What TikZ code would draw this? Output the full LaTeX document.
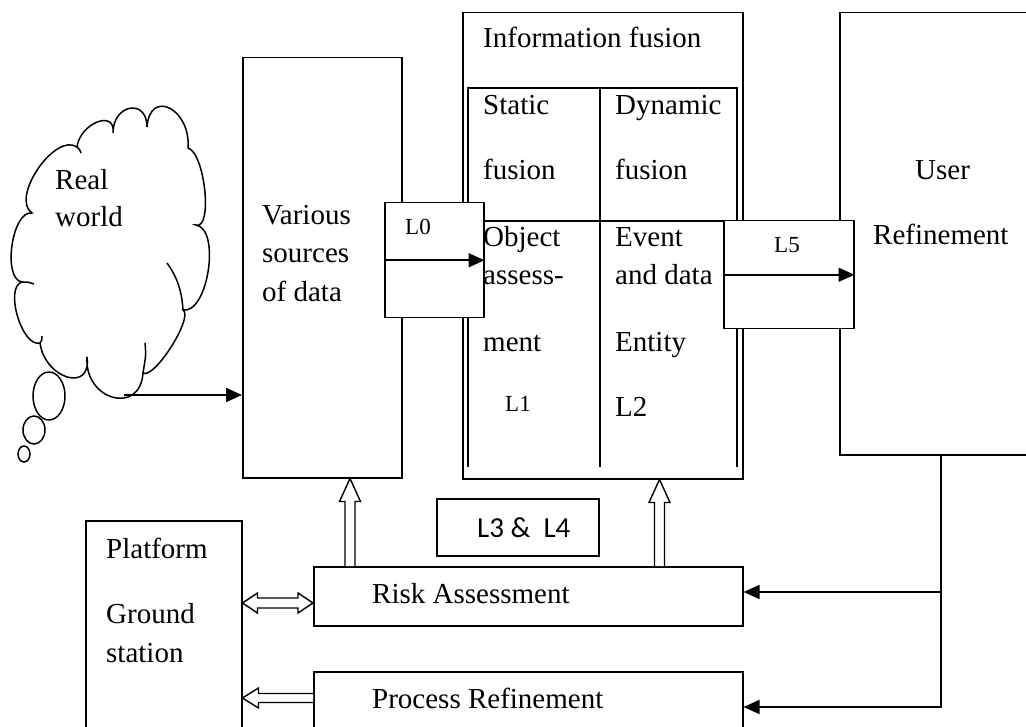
\documentclass[tikz,border=0pt]{standalone}
\usepackage{fontspec}
\setmainfont{Liberation Serif}
\newfontfamily\calib{Carlito}
\usetikzlibrary{arrows.meta,calc}
\begin{document}
\begin{tikzpicture}[x=1pt,y=-1pt,
  box/.style={draw,line width=1.5pt,inner sep=0pt,anchor=north west},
  wbox/.style={box,fill=white},
  txt/.style={anchor=base west,inner sep=0pt,font=\fontsize{29}{34}\selectfont},
  small/.style={anchor=base west,inner sep=0pt,font=\fontsize{23}{27}\selectfont},
  arr/.style={line width=1.6pt,-{Triangle[length=16pt,width=14pt]}},
  ln/.style={line width=1.5pt},
  hollow/.style={draw,line width=1.4pt,fill=white,line join=miter},
  cloudline/.style={line width=1.5pt}
  ]
\useasboundingbox (0,0) rectangle (1026,727);
\clip (0,0) rectangle (1026,727);

% ---------- cloud ----------
\draw[cloudline,fill=white]
  (32,213) .. controls (10,198) and (55,132) .. (77,147)
  .. controls (80,123) and (116,109) .. (113,133)
  .. controls (113,104) and (147,98) .. (147,127)
  .. controls (150,88) and (191,109) .. (188,148)
  .. controls (205,153) and (213,230) .. (196,225)
  .. controls (221,229) and (208,314) .. (183,310)
  .. controls (194,317) and (154,380) .. (143,373)
  .. controls (140,416) and (84,400) .. (87,357)
  .. controls (92,393) and (45,379) .. (40,343)
  .. controls (22,348) and (4,287) .. (22,282)
  .. controls (2,279) and (12,210) .. (32,213) -- cycle;
\draw[cloudline] (167,263) .. controls (178,278) and (182,293) .. (183,310);
\draw[cloudline] (145,343) .. controls (146,355) .. (143,373);
\draw[cloudline] (34,284) .. controls (28,282) .. (22,282);
\draw[cloudline] (77,147) .. controls (80,150) .. (81,153);
\draw[cloudline] (40,343) .. controls (42,340) .. (42,336);
\draw[cloudline,fill=white] (49,396) ellipse [x radius=16, y radius=24];
\draw[cloudline,fill=white] (34,430) ellipse [x radius=11, y radius=14];
\draw[cloudline,fill=white] (24,454) ellipse [x radius=6, y radius=8];
\node[txt] (treal) at (55,190) {Real};
\node[txt] (tworld) at (55,227) {world};
\coordinate (cl) at (124,395);

% ---------- main boxes ----------
\node[box,minimum width=159pt,minimum height=420pt] (vs) at (242,57) {};
\node[txt] (tv1) at (262,225) {Various};
\node[txt] (tv2) at (262,263) {sources};
\node[txt] (tv3) at (262,302) {of data};

\node[box,minimum width=280pt,minimum height=466pt] (inf) at (462,12) {};
\draw[ln] (468,467) -- (468,88) -- (737,88) -- (737,467);
\draw[ln] (600,88) -- (600,467);
\draw[ln] (468,221) -- (737,221);
\node[txt] (tif) at (483,48) {Information fusion};
\node[txt] (ts1) at (483,115) {Static};
\node[txt] (ts2) at (483,180) {fusion};
\node[txt] (td1) at (615,115) {Dynamic};
\node[txt] (td2) at (615,180) {fusion};
\node[txt] (to1) at (483,247) {Object};
\node[txt] (to2) at (483,285) {assess-};
\node[txt] (to3) at (483,352) {ment};
\node[small] (tl1) at (505,412) {L1};
\node[txt] (te1) at (615,247) {Event};
\node[txt] (te2) at (615,285) {and data};
\node[txt] (te3) at (615,352) {Entity};
\node[txt] (tl2) at (615,417) {L2};

\node[box,minimum width=200pt,minimum height=442pt] (user) at (839,12) {};
\node[txt] (tu1) at (915,180) {User};
\node[txt] (tu2) at (873,245) {Refinement};

\node[wbox,minimum width=99pt,minimum height=115pt] (l0) at (384,202) {};
\node[small] (tl0) at (405,235) {L0};
\draw[arr] (l0.west) -- (l0.east);

\node[wbox,minimum width=130pt,minimum height=108pt] (l5) at (723,220) {};
\node[small] (tl5) at (774,253) {L5};
\draw[arr] (l5.west) -- (l5.east);

\draw[arr] (cl) -- (cl -| vs.west);

% ---------- lower part ----------
\node[box,minimum width=162pt,minimum height=57pt] (l34) at (436,498) {};
\node[anchor=base west,inner sep=0pt,font=\calib\fontsize{29}{34}\selectfont] (tl34) at (477,537) {L3 \& \ L4};

\node[box,minimum width=429pt,minimum height=59pt] (risk) at (313,566) {};
\node[txt] (trisk) at (372,603) {Risk Assessment};
\node[box,minimum width=429pt,minimum height=80pt] (proc) at (313,671) {};
\node[txt] (tproc) at (372,708) {Process Refinement};

\node[box,minimum width=156pt,minimum height=230pt] (plat) at (85,520) {};
\node[txt] (tp1) at (106,558) {Platform};
\node[txt] (tp2) at (106,623) {Ground};
\node[txt] (tp3) at (106,662) {station};

% hollow up arrows
\coordinate (a1) at (risk.north -| 350,0);
\coordinate (b1) at (vs.south -| 350,0);
\draw[hollow] ($(a1)+(-5,0)$) -- ($(b1)+(-5,23)$) -- ($(b1)+(-10.5,23)$) -- (b1)
  -- ($(b1)+(10.5,23)$) -- ($(b1)+(5,23)$) -- ($(a1)+(5,0)$);
\coordinate (a2) at (risk.north -| 659.5,0);
\coordinate (b2) at (inf.south -| 659.5,0);
\draw[hollow] ($(a2)+(-5,0)$) -- ($(b2)+(-5,23)$) -- ($(b2)+(-10.5,23)$) -- (b2)
  -- ($(b2)+(10.5,23)$) -- ($(b2)+(5,23)$) -- ($(a2)+(5,0)$);

% hollow double arrow platform <-> risk
\coordinate (p1) at (plat.east |- 0,603);
\coordinate (r1) at (risk.west |- 0,603);
\draw[hollow] (p1) -- ($(p1)+(15,-10)$) -- ($(p1)+(15,-5)$) -- ($(r1)+(-15,-5)$)
  -- ($(r1)+(-15,-10)$) -- (r1) -- ($(r1)+(-15,10)$) -- ($(r1)+(-15,5)$)
  -- ($(p1)+(15,5)$) -- ($(p1)+(15,10)$) -- cycle;

% hollow arrow process -> platform
\coordinate (p2) at (plat.east |- 0,698);
\coordinate (r2) at (proc.west |- 0,698);
\draw[hollow] ($(r2)+(0,-4.5)$) -- ($(p2)+(16,-4.5)$) -- ($(p2)+(16,-10)$) -- (p2)
  -- ($(p2)+(16,10)$) -- ($(p2)+(16,4.5)$) -- ($(r2)+(0,4.5)$);

% feedback lines from user
\coordinate (u1) at (user.south -| 941,0);
\coordinate (c1) at (942,592);
\coordinate (c2) at (942,707);
\draw[ln] (u1) -- (c2 -| u1);
\draw[arr] (c1) -- (c1 -| risk.east);
\draw[arr] (c2) -- (c2 -| proc.east);
\end{tikzpicture}
\end{document}
